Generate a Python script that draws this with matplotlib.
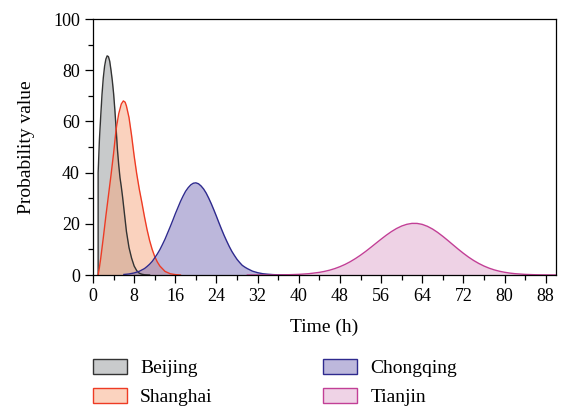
import numpy as np
import matplotlib
matplotlib.use('Agg')
import matplotlib.pyplot as plt
from matplotlib.patches import Patch
from matplotlib.ticker import MultipleLocator

plt.rcParams['font.family'] = ['Liberation Serif', 'DejaVu Serif']

# 数据
beijing_t = [1.0, 1.0, 1.25, 1.5, 1.75, 2.0, 2.25, 2.5, 2.75, 3.0, 3.25, 3.5, 3.75, 4.0, 4.25, 4.5,
             4.75, 5.0, 5.25, 5.5, 5.75, 6.0, 6.5, 7.0, 7.5, 8.0, 8.5, 9.0, 9.5, 10.0, 11.0]
beijing_p = [0.0, 40.0, 53.0, 62.0, 70.5, 77.0, 81.5, 84.3, 85.6, 85.3, 83.5, 80.0, 76.0, 71.0, 64.5, 57.0,
             49.0, 43.0, 38.0, 34.5, 30.5, 26.0, 17.0, 10.7, 6.6, 3.5, 1.7, 0.7, 0.3, 0.1, 0.0]

shanghai_t = [1.0, 1.25, 1.5, 1.75, 2.0, 2.5, 3.0, 3.5, 4.0, 4.5, 5.0, 5.5, 5.9, 6.25, 6.5, 7.0, 7.5,
              8.0, 8.5, 9.0, 9.5, 10.0, 10.5, 11.0, 11.5, 12.0, 12.5, 13.0, 14.0, 15.0, 16.0, 17.0]
shanghai_p = [0.0, 3.0, 6.5, 10.5, 14.5, 23.0, 31.0, 39.0, 47.5, 57.0, 63.0, 66.8, 68.0, 67.5, 66.0, 61.5, 54.5,
              46.5, 39.5, 33.5, 28.3, 22.8, 17.8, 13.5, 10.0, 7.2, 5.1, 3.5, 1.4, 0.5, 0.15, 0.0]

chongqing_t = [6, 7, 8, 9, 10, 10.5, 11, 11.5, 12, 12.5, 13, 13.5, 14, 14.5, 15, 15.5, 16, 16.5, 17, 17.5,
               18, 18.5, 19, 19.5, 20, 20.5, 21, 21.5, 22, 22.5, 23, 23.5, 24, 24.5, 25, 25.5, 26, 26.5,
               27, 27.5, 28, 28.5, 29, 29.5, 30, 31, 32, 33, 34, 35, 36, 38]
chongqing_p = [0.2, 0.4, 0.8, 1.45, 2.5, 3.3, 4.2, 5.3, 6.7, 8.2, 9.9, 11.9, 14.0, 16.4, 18.8, 21.3, 23.9, 26.3,
               28.7, 30.8, 32.7, 34.1, 35.2, 35.85, 36.0, 35.65, 34.8, 33.6, 32.0, 30.0, 27.8, 25.4, 22.9, 20.3,
               17.8, 15.4, 13.2, 11.1, 9.2, 7.6, 6.1, 4.9, 3.8, 3.1, 2.5, 1.5, 0.9, 0.5, 0.3, 0.15, 0.07, 0.0]

tianjin_t = [30, 34, 36, 38, 40, 42, 44, 45, 46, 47, 48, 49, 50, 51, 52, 53, 54, 55, 56, 57, 58, 59, 60, 61,
             62, 63, 64, 65, 66, 67, 68, 69, 70, 71, 72, 73, 74, 75, 76, 77, 78, 79, 80, 81, 82, 84, 86, 88, 90]
tianjin_p = [0.0, 0.015, 0.04, 0.11, 0.25, 0.52, 1.03, 1.41, 1.89, 2.5, 3.25, 4.14, 5.19, 6.4, 7.74, 9.21,
             10.78, 12.39, 13.99, 15.53, 16.94, 18.16, 19.13, 19.8, 20.16, 20.15, 19.77, 19.02, 17.96, 16.63,
             15.1, 13.46, 11.76, 10.08, 8.48, 6.99, 5.66, 4.5, 3.5, 2.67, 2.0, 1.47, 1.07, 0.75, 0.52, 0.24,
             0.1, 0.04, 0.015]

names = ['Beijing', 'Shanghai', 'Chongqing', 'Tianjin']
fills = ['#939799', '#f7a77f', '#7b71b9', '#dfa7cd']
edges = ['#333333', '#ee3b24', '#2e2a8e', '#c23f96']
series = [(beijing_t, beijing_p), (shanghai_t, shanghai_p), (chongqing_t, chongqing_p), (tianjin_t, tianjin_p)]

fig = plt.figure(figsize=(5.63, 4.08), dpi=100)
ax = fig.add_axes([93 / 563, 1 - 275 / 408, 463 / 563, 256 / 408])

# 先填充, 再画线
for (t, p), fc in zip(series, fills):
    ax.fill_between(t, 0, p, color=fc, alpha=0.5, linewidth=0)
for (t, p), ec in zip(series, edges):
    ax.plot(t, p, color=ec, linewidth=1.0)

ax.set_xlim(0, 90)
ax.set_ylim(0, 100)
ax.xaxis.set_major_locator(MultipleLocator(8))
ax.xaxis.set_minor_locator(MultipleLocator(4))
ax.yaxis.set_major_locator(MultipleLocator(20))
ax.yaxis.set_minor_locator(MultipleLocator(10))
ax.tick_params(which='major', direction='out', length=6, width=0.9, labelsize=13)
ax.tick_params(which='minor', direction='out', length=3.5, width=0.9)
for s in ax.spines.values():
    s.set_linewidth(0.9)

ax.set_xlabel('Time (h)', fontsize=14, labelpad=10)
ax.set_ylabel('Probability value', fontsize=14, labelpad=13)

handles = [Patch(facecolor=fc, edgecolor=ec, linewidth=1.0) for fc, ec in
           zip(['#c9cbcc', '#fbd3bf', '#bdb8dc', '#efd3e6'], edges)]
fig.legend(handles, names, ncol=2, loc='upper left', bbox_to_anchor=(93 / 563, 1 - 359 / 408),
           frameon=False, fontsize=14, borderpad=0, borderaxespad=0, handlelength=1.75, handleheight=0.82,
           handletextpad=0.67, labelspacing=0.54, columnspacing=5.7)

plt.savefig('out.png', dpi=100)
